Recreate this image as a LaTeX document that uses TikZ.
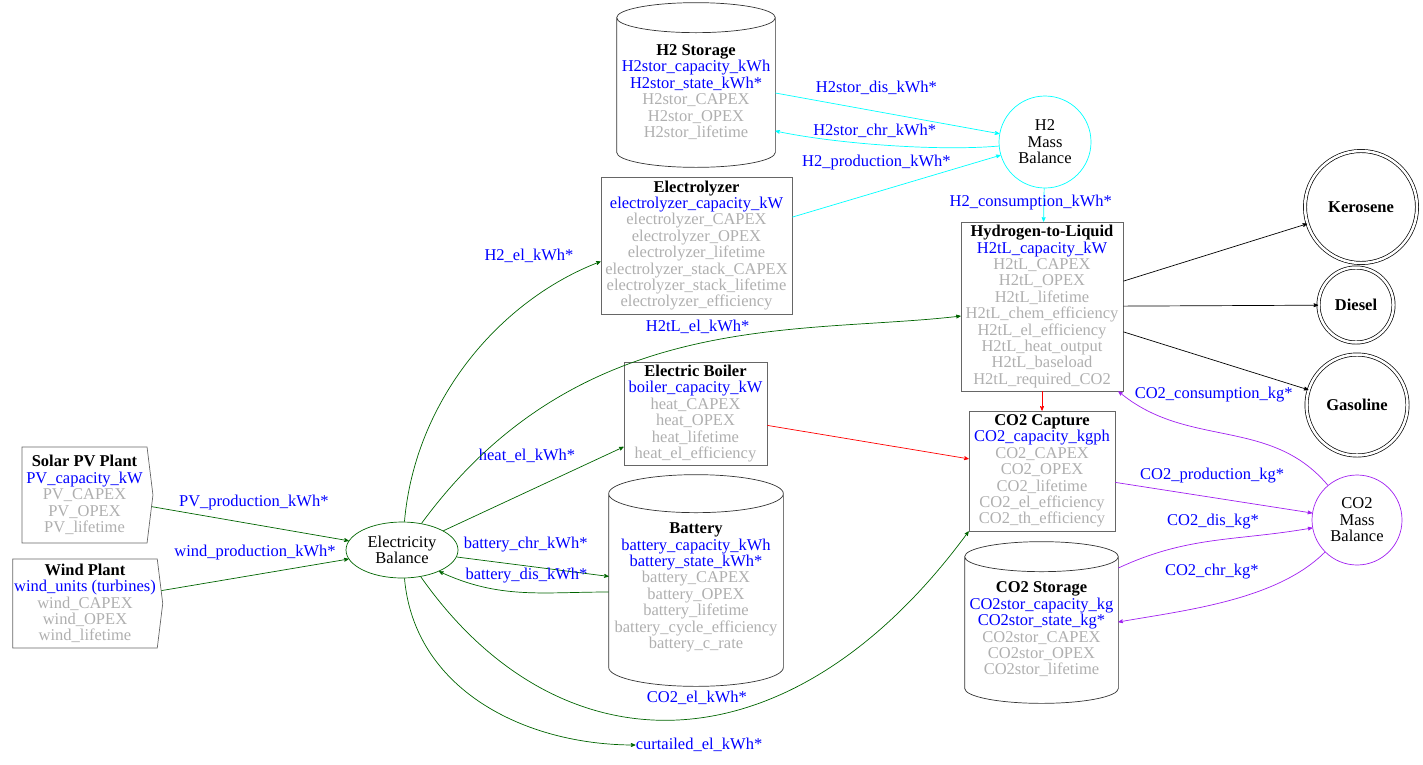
\documentclass[tikz,border=0pt]{standalone}
\usepackage{fontspec}
\setmainfont{Liberation Serif}
\usetikzlibrary{arrows,calc,shapes.geometric,shapes.symbols}

\definecolor{elgreen}{RGB}{0,100,0}
\definecolor{h2cyan}{RGB}{0,255,255}
\definecolor{co2purple}{RGB}{160,32,240}
\definecolor{prmgray}{RGB}{175,175,175}
\newcommand{\dvar}[1]{\textcolor{blue}{#1}}
\newcommand{\dpar}[1]{\textcolor{prmgray}{#1}}

\begin{document}
\begin{tikzpicture}[->,>=stealth',x=1pt,y=1pt,line width=0.7pt,
  every node/.style={font=\fontsize{16.5}{16.4}\selectfont,align=center,inner sep=0pt},
  unit/.style={rectangle,draw=black!60},
  source/.style={signal,signal to=east,signal pointer angle=166,draw=black!60},
  store/.style={rectangle},
  balance/.style={circle},
  fuel/.style={circle,draw,double,double distance=2.5pt,font=\fontsize{16.5}{16.4}\selectfont\bfseries},
  flow/.style={text=blue},
  el/.style={elgreen}, h2/.style={h2cyan}, co2/.style={co2purple}, heat/.style={red}]
  \useasboundingbox (0,0) rectangle (1423,-764);

  \node[source, minimum width=131, minimum height=96] (pv) at (84.5,-495)
    {\textbf{Solar PV Plant}\\ \dvar{PV\_capacity\_kW}\\ \dpar{PV\_CAPEX}\\ \dpar{PV\_OPEX}\\ \dpar{PV\_lifetime}};
  \node[source, minimum width=150, minimum height=89] (wind) at (85,-603.5)
    {\textbf{Wind Plant}\\ \dvar{wind\_units (turbines)}\\ \dpar{wind\_CAPEX}\\ \dpar{wind\_OPEX}\\ \dpar{wind\_lifetime}};
  \node[ellipse, draw=elgreen, minimum width=112, minimum height=56] (elec) at (402,-550) {Electricity\\Balance};

  \node[store, minimum width=158, minimum height=150] (h2s) at (696,-92)
    {\textbf{H2 Storage}\\ \dvar{H2stor\_capacity\_kWh}\\ \dvar{H2stor\_state\_kWh*}\\ \dpar{H2stor\_CAPEX}\\ \dpar{H2stor\_OPEX}\\ \dpar{H2stor\_lifetime}};
  \node[balance, draw=h2cyan, minimum size=92] (h2mb) at (1045,-142) {H2\\Mass\\Balance};
  \node[unit, minimum width=191, minimum height=137] (ely) at (696.5,-245.5)
    {\textbf{Electrolyzer}\\ \dvar{electrolyzer\_capacity\_kW}\\ \dpar{electrolyzer\_CAPEX}\\ \dpar{electrolyzer\_OPEX}\\ \dpar{electrolyzer\_lifetime}\\ \dpar{electrolyzer\_stack\_CAPEX}\\ \dpar{electrolyzer\_stack\_lifetime}\\ \dpar{electrolyzer\_efficiency}};
  \node[unit, minimum width=162, minimum height=169] (h2tl) at (1042,-306.5)
    {\textbf{Hydrogen-to-Liquid}\\ \dvar{H2tL\_capacity\_kW}\\ \dpar{H2tL\_CAPEX}\\ \dpar{H2tL\_OPEX}\\ \dpar{H2tL\_lifetime}\\ \dpar{H2tL\_chem\_efficiency}\\ \dpar{H2tL\_el\_efficiency}\\ \dpar{H2tL\_heat\_output}\\ \dpar{H2tL\_baseload}\\ \dpar{H2tL\_required\_CO2}};
  \node[unit, minimum width=143, minimum height=103] (boil) at (695.5,-413.5)
    {\textbf{Electric Boiler}\\ \dvar{boiler\_capacity\_kW}\\ \dpar{heat\_CAPEX}\\ \dpar{heat\_OPEX}\\ \dpar{heat\_lifetime}\\ \dpar{heat\_el\_efficiency}};
  \node[store, minimum width=174, minimum height=197] (bat) at (696,-587.5)
    {\textbf{Battery}\\ \dvar{battery\_capacity\_kWh}\\ \dvar{battery\_state\_kWh*}\\ \dpar{battery\_CAPEX}\\ \dpar{battery\_OPEX}\\ \dpar{battery\_lifetime}\\ \dpar{battery\_cycle\_efficiency}\\ \dpar{battery\_c\_rate}};
  \node[unit, minimum width=146, minimum height=120] (co2c) at (1042,-471)
    {\textbf{CO2 Capture}\\ \dvar{CO2\_capacity\_kgph}\\ \dpar{CO2\_CAPEX}\\ \dpar{CO2\_OPEX}\\ \dpar{CO2\_lifetime}\\ \dpar{CO2\_el\_efficiency}\\ \dpar{CO2\_th\_efficiency}};
  \node[store, minimum width=153, minimum height=147] (co2s) at (1041.5,-629.5)
    {\textbf{CO2 Storage}\\ \dvar{CO2stor\_capacity\_kg}\\ \dvar{CO2stor\_state\_kg*}\\ \dpar{CO2stor\_CAPEX}\\ \dpar{CO2stor\_OPEX}\\ \dpar{CO2stor\_lifetime}};
  \node[balance, draw=co2purple, minimum size=90] (co2mb) at (1357,-520) {CO2\\Mass\\Balance};
  \node[fuel, minimum size=112] (kero) at (1361,-207) {Kerosene};
  \node[fuel, minimum size=75] (dies) at (1356,-305) {Diesel};
  \node[fuel, minimum size=101] (gaso) at (1357,-405) {Gasoline};
  \node[flow] (curt) at (699,-745) {curtailed\_el\_kWh*};

  % storage drums
  \foreach \s/\r in {h2s/15pt,bat/19pt,co2s/15pt}
    \draw[-,draw=black!80] let \p1=(\s.north west), \p2=(\s.south east), \n1={(\x2-\x1)/2} in
      (\x1,{\y1+14pt-\r}) -- (\x1,{\y2+\r})
      arc[start angle=180, end angle=360, x radius=\n1, y radius=\r]
      -- (\x2,{\y1+14pt-\r})
      arc[start angle=0, end angle=360, x radius=\n1, y radius=\r];

  % electricity
  \path[el]
  (pv) edge node[flow, xshift=3.5, yshift=21.5] {PV\_production\_kWh*} (elec)
  (wind) edge node[flow, yshift=22.5] {wind\_production\_kWh*} (elec)
  (elec) edge node[flow, xshift=-6.5, yshift=33] {heat\_el\_kWh*} (boil)
  (elec) edge node[flow, xshift=-7, yshift=22] {battery\_chr\_kWh*} (bat)
  ([yshift=-4.5]bat.west) edge[out=180, in=-25] node[flow, xshift=5, yshift=17] {battery\_dis\_kWh*} (elec.-30)
  (elec) edge[out=-85, in=180] (curt);
  \draw[el] (elec) .. controls (415,-400) and (500,-300) .. ([yshift=-16]ely.west)
    node[flow, pos=0.75, yshift=45] {H2\_el\_kWh*};
  \draw[el] (elec) .. controls (581,-306) and (800,-335) .. (h2tl)
    node[flow, pos=0.5, xshift=7, yshift=18] {H2tL\_el\_kWh*};
  \draw[el] (elec) .. controls (560,-775) and (790,-775) .. (co2c.south west)
    node[flow, pos=0.5, xshift=17, yshift=22] {CO2\_el\_kWh*};

  % hydrogen
  \path[h2]
  (ely) edge node[flow, xshift=-20, yshift=24] {H2\_production\_kWh*} (h2mb)
  ([yshift=-1]h2s.east) edge node[flow, xshift=-11, yshift=26] {H2stor\_dis\_kWh*} (h2mb)
  (h2mb) edge[out=185, in=-12, looseness=0.7] node[flow, xshift=-12, yshift=14] {H2stor\_chr\_kWh*} ([yshift=-39]h2s.east)
  (h2mb) edge node[flow, xshift=-13, yshift=2] {H2\_consumption\_kWh*} (h2tl);

  % fuels and heat
  \path[black]
  (h2tl) edge (kero)
  (h2tl) edge (dies)
  (h2tl) edge (gaso);
  \path[heat]
  (h2tl) edge (co2c)
  (boil) edge (co2c);

  % carbon dioxide
  \path[co2]
  (co2c) edge node[flow, xshift=-1.7, yshift=21.7] {CO2\_production\_kg*} (co2mb)
  ([yshift=61.5]co2s.east) edge[out=25, in=190] node[flow, yshift=18.7] {CO2\_dis\_kg*} (co2mb)
  (co2mb) edge[out=225, in=10, looseness=0.8] node[flow, xshift=-17, yshift=29] {CO2\_chr\_kg*} ([yshift=7.5]co2s.east)
  (co2mb) edge[out=130, in=-40] node[flow, xshift=-13.6, yshift=40] {CO2\_consumption\_kg*} ([xshift=-5]h2tl.south east);
\end{tikzpicture}
\end{document}
